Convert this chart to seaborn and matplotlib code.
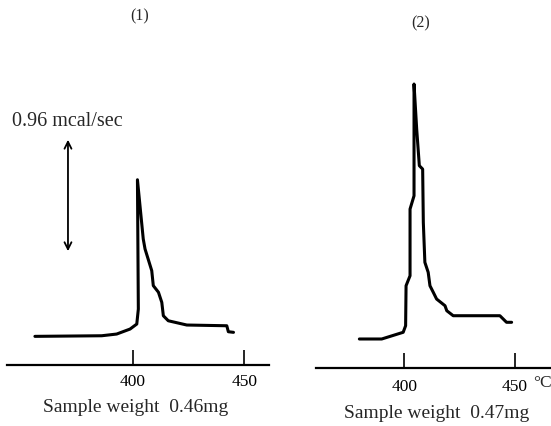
import numpy as np
import pandas as pd
import seaborn as sns
import matplotlib
matplotlib.use("Agg")
import matplotlib.pyplot as plt

# DSC trace (1), sample 0.46 mg : temperature (C) / heat flow (mcal/sec above axis)
temps_1 = [356.2, 386.1, 392.8, 398.8, 401.8, 402.5, 402.1, 404.7, 405.5, 408.5, 409.2,
           411.5, 413.0, 413.7, 415.9, 424.2, 442.1, 442.8, 445.1]
signal_1 = [0.235, 0.240, 0.254, 0.295, 0.336, 0.459, 1.520, 1.034, 0.952, 0.774, 0.651,
            0.597, 0.514, 0.404, 0.363, 0.328, 0.322, 0.273, 0.268]

# DSC trace (2), sample 0.47 mg
temps_2 = [379.7, 389.8, 399.5, 400.6, 400.8, 402.6, 402.6, 404.4, 404.4, 405.6, 406.8,
           408.3, 408.6, 409.3, 410.8, 411.6, 413.1, 414.6, 418.4, 419.2, 422.1, 443.2,
           446.2, 448.5]
signal_2 = [0.238, 0.238, 0.293, 0.347, 0.675, 0.757, 1.304, 1.413, 2.330, 1.961, 1.660,
            1.632, 1.195, 0.867, 0.785, 0.675, 0.621, 0.566, 0.511, 0.470, 0.429, 0.429,
            0.375, 0.375]

tick_temps = [400, 450]
panel_titles = ["(1)", "(2)"]
captions = ["Sample weight  0.46mg", "Sample weight  0.47mg"]
scale_label = "0.96 mcal/sec"
scale_value = 0.96

sns.set_style("white")
plt.rcParams['font.family'] = ['Liberation Serif', 'DejaVu Serif']

W, H = 551, 427
fig = plt.figure(figsize=(W / 100, H / 100), dpi=100)

PX_PER_UNIT = 117 / 0.96   # vertical pixels per mcal/sec


def make_axes(x0, x1, y_axis, t_lo, t_hi):
    ax = fig.add_axes([x0 / W, 1 - y_axis / H, (x1 - x0) / W, y_axis / H])
    ax.set_xlim(t_lo, t_hi)
    ax.set_ylim(0, y_axis / PX_PER_UNIT)
    ax.patch.set_alpha(0)
    for s in ["top", "left", "right"]:
        ax.spines[s].set_visible(False)
    ax.spines["bottom"].set_linewidth(1.6)
    ax.spines["bottom"].set_color("black")
    ax.set_yticks([])
    ax.set_xticks(tick_temps)
    return ax


# left panel
ax1 = make_axes(7, 269, 366, 343.7, 461.0)
df1 = pd.DataFrame({"T": temps_1, "q": signal_1})
sns.lineplot(data=df1, x="T", y="q", sort=False, estimator=None, color="black",
             linewidth=2.2, ax=ax1)
ax1.tick_params(axis="x", bottom=True, direction="in", length=11, width=1.2, pad=6,
                labelsize=12.5, colors="black")
ax1.set_xlabel("")
ax1.set_ylabel("")

# scale arrow
y_lo = 0.911
ax1.annotate("", xy=(371.0, y_lo + scale_value), xytext=(371.0, y_lo),
             arrowprops=dict(arrowstyle="<->,head_length=0.5,head_width=0.25",
                             color="black", lw=1.3))

# right panel
ax2 = make_axes(316, 551, 369, 360.1, 466.3)
df2 = pd.DataFrame({"T": temps_2, "q": signal_2})
sns.lineplot(data=df2, x="T", y="q", sort=False, estimator=None, color="black",
             linewidth=2.2, ax=ax2)
ax2.tick_params(axis="x", bottom=True, direction="in", length=11, width=1.2, pad=7,
                labelsize=12.5, colors="black")
ax2.set_xlabel("")
ax2.set_ylabel("")

# texts
fig.text(140 / W, 1 - 16 / H, panel_titles[0], ha="center", va="center", fontsize=11.5)
fig.text(421 / W, 1 - 23 / H, panel_titles[1], ha="center", va="center", fontsize=11.5)
fig.text(12 / W, 1 - 121 / H, scale_label, ha="left", va="center", fontsize=14.5)
fig.text(542 / W, 1 - 383 / H, "\u00b0C", ha="center", va="center", fontsize=12.5)
fig.text(136 / W, 1 - 408 / H, captions[0], ha="center", va="center", fontsize=14)
fig.text(437 / W, 1 - 414 / H, captions[1], ha="center", va="center", fontsize=14)

fig.savefig("out.png", dpi=100, facecolor="white")
